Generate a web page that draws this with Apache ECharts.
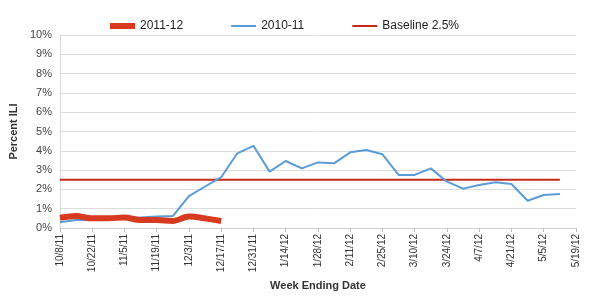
<!DOCTYPE html>
<html lang="en">
<head>
    <meta charset="UTF-8">
    <title>Percent ILI</title>
    <script src="https://fastly.jsdelivr.net/npm/echarts@6/dist/echarts.min.js"></script>
</head>
<body style="margin:0">
<div id="main" style="height:300px;width:600px;"></div>
<script>
    // week ending dates, 10/8/11 .. 5/19/12
    var weeks = ['10/8/11','10/15/11','10/22/11','10/29/11','11/5/11','11/12/11','11/19/11','11/26/11',
        '12/3/11','12/10/11','12/17/11','12/24/11','12/31/11','1/7/12','1/14/12','1/21/12','1/28/12',
        '2/4/12','2/11/12','2/18/12','2/25/12','3/3/12','3/10/12','3/17/12','3/24/12','3/31/12',
        '4/7/12','4/14/12','4/21/12','4/28/12','5/5/12','5/12/12','5/19/12'];
    var season2011 = [0.53,0.62,0.50,0.50,0.55,0.41,0.41,0.36,0.59,0.50,0.36];
    var season2010 = [0.30,0.41,0.41,0.42,0.50,0.55,0.60,0.62,1.65,2.15,2.63,3.87,4.26,2.92,3.47,3.09,
        3.40,3.35,3.92,4.04,3.82,2.75,2.75,3.09,2.40,2.04,2.23,2.37,2.28,1.41,1.71,1.76];
    var baselineValue = 2.5;
    var baseline = season2010.map(function(){ return baselineValue; });

    var myChart = echarts.init(document.getElementById('main'));
    var option = {
        animation: false,
        textStyle: { fontFamily: 'Liberation Sans, Arial, sans-serif' },
        legend: {
            top: 15,
            left: 102,
            itemGap: 47,
            itemWidth: 25,
            itemHeight: 10,
            itemStyle: { opacity: 0 },   // hide the circle, keep the line
            textStyle: { fontSize: 12, color: '#222' },
            data: [
                { name: '2011-12', lineStyle: { width: 6 } },
                '2010-11',
                'Baseline 2.5%'
            ]
        },
        grid: { left: 57, right: 24, top: 35, bottom: 72 },
        xAxis: {
            type: 'category',
            boundaryGap: false,
            data: weeks,
            name: 'Week Ending Date',
            nameLocation: 'middle',
            nameGap: 52,
            nameTextStyle: { fontWeight: 'bold', fontSize: 11, color: '#333' },
            axisLine: { lineStyle: { color: '#d0d0d0' } },
            axisTick: { interval: 1, length: 4, lineStyle: { color: '#bbb' } },
            axisLabel: { interval: 1, rotate: 90, fontSize: 10, color: '#333', margin: 6 }
        },
        yAxis: {
            type: 'value',
            min: 0,
            max: 10,
            interval: 1,
            name: 'Percent ILI',
            nameLocation: 'middle',
            nameGap: 33,
            nameTextStyle: { fontWeight: 'bold', fontSize: 11, color: '#333' },
            axisLine: { show: true, lineStyle: { color: '#d9d9d9' } },
            splitLine: { lineStyle: { color: '#dcdcdc' } },
            axisLabel: { formatter: '{value}%', fontSize: 11, color: '#444' }
        },
        series: [
            {
                name: '2011-12',
                type: 'line',
                data: season2011,
                symbol: 'none',
                smooth: 0.3,
                z: 4,
                lineStyle: { width: 6, color: '#d73a1f' },
                itemStyle: { color: '#d73a1f' }
            },
            {
                name: '2010-11',
                type: 'line',
                data: season2010,
                symbol: 'none',
                z: 3,
                lineStyle: { width: 2, color: '#5b9bd8' },
                itemStyle: { color: '#5b9bd8' }
            },
            {
                name: 'Baseline 2.5%',
                type: 'line',
                data: baseline,
                symbol: 'none',
                z: 2,
                lineStyle: { width: 2, color: '#c8281a' },
                itemStyle: { color: '#c8281a' }
            }
        ]
    };
    myChart.setOption(option);
</script>
</body>
</html>
